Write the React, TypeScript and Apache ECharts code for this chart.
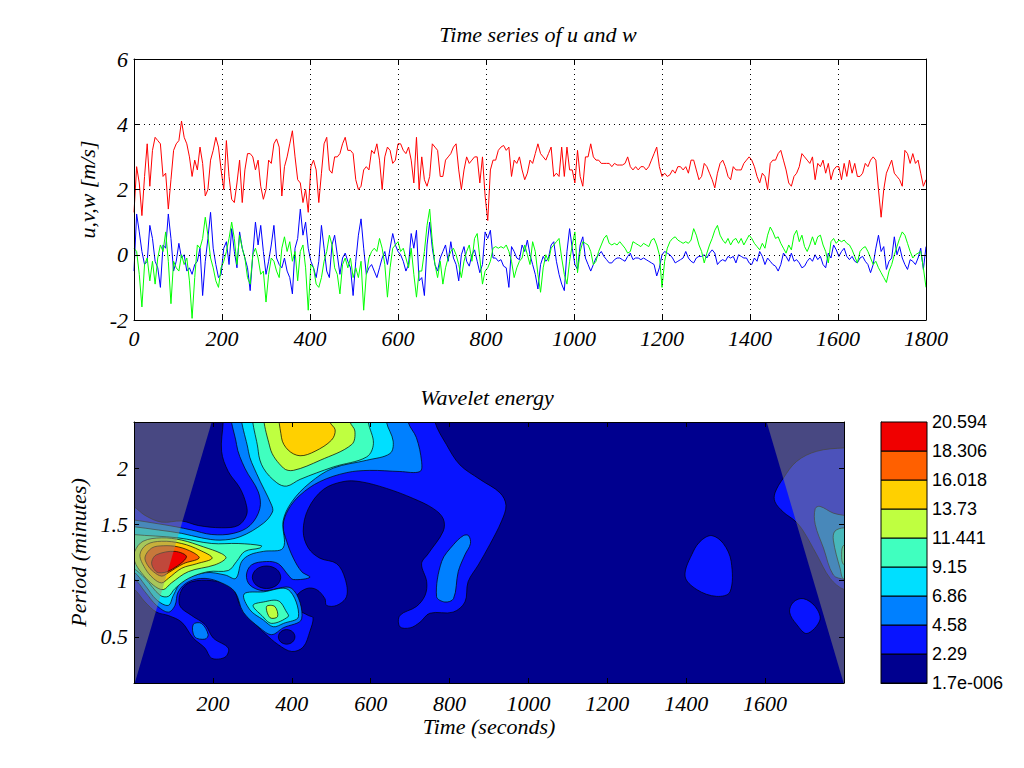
import React, { useEffect, useRef } from "react";
import * as echarts from "echarts";

const SAMPLE_STEP = 6;
const TOP_X_TICK_STEP = 200;

const uSeries = [
1.3,2.7,2.2,1.2,2.4,3.4,2.1,3.2,3.6,3.5,3.4,2.4,2.5,1.4,2.3,3.2,3.4,3.5,
4.1,3.6,3.4,3.0,2.4,2.9,2.6,3.3,2.8,1.8,2.0,2.9,3.2,3.6,3.3,2.6,2.0,3.5,2.4,
1.7,1.6,2.2,2.9,1.6,2.6,3.1,3.1,3.0,2.6,2.9,2.1,1.7,2.0,2.9,2.8,3.4,3.55,3.3,1.8,
2.7,3.0,3.4,3.8,3.0,2.3,2.2,1.6,2.0,1.3,2.7,2.9,2.6,1.6,2.5,3.4,3.6,2.6,2.5,3.0,
3.0,3.1,3.4,3.6,3.2,3.2,3.1,2.3,2.0,2.1,2.6,2.7,2.6,3.2,3.1,3.4,2.9,2.0,3.0,3.3,
3.2,2.8,2.9,3.4,3.4,3.2,3.1,3.3,2.9,2.2,3.6,2.0,
3.0,2.3,2.1,2.4,3.4,3.3,3.2,2.4,2.4,2.9,3.0,3.1,3.3,3.4,2.6,2.0,2.6,3.0,2.8,2.9,
3.0,3.0,2.2,3.0,1.8,1.05,2.6,2.9,2.9,3.2,3.3,3.35,3.2,3.3,2.4,2.9,2.8,3.0,2.6,2.3,
2.5,2.9,2.8,3.1,3.4,3.1,3.0,2.9,3.1,3.3,2.4,2.5,2.4,3.3,2.4,3.3,2.6,2.6,2.2,3.2,
2.4,2.1,3.0,3.0,3.4,3.0,2.9,2.9,2.8,2.8,2.8,2.8,2.7,2.8,2.75,2.75,2.75,2.8,3.0,2.7,
2.6,2.7,2.6,2.7,2.7,2.6,2.7,2.9,3.1,3.3,2.7,2.4,2.5,2.4,2.45,2.6,2.5,2.7,
2.7,2.6,2.7,2.5,2.9,2.9,2.6,2.3,2.4,2.8,2.7,2.5,2.3,2.05,2.5,2.8,2.9,2.7,2.4,2.3,
2.7,2.6,2.6,2.6,2.8,2.9,3.0,2.9,2.7,2.4,2.2,2.5,2.4,2.0,2.8,2.9,2.9,3.1,3.2,2.9,
2.6,2.2,2.1,2.4,2.5,2.7,3.1,3.0,2.9,2.8,3.0,2.3,2.8,2.7,2.9,2.5,2.8,2.3,2.6,2.7,
2.7,2.3,2.8,2.4,2.9,2.5,2.8,2.4,2.4,2.5,2.8,2.7,2.9,3.0,2.9,2.0,1.15,2.0,2.5,2.7,
2.9,2.5,2.4,2.3,2.1,3.2,3.1,2.8,3.1,2.8,2.9,2.5,2.1,2.3,
];

const wSeries = [
-0.5,1.25,0.7,0.1,-0.3,-0.2,0.9,0.5,-0.2,-0.4,-1.0,0.3,0.2,1.25,0.5,-0.5,-0.2,0.35,-0.1,0.0,
-0.5,-0.4,-0.6,-0.3,-0.2,0.2,-1.25,-0.2,0.5,1.3,0.2,-0.3,-0.7,-0.6,0.2,0.4,-0.3,0.8,0.1,-0.4,
0.7,0.2,-0.1,-0.4,-1.1,0.0,1.0,0.3,0.9,0.1,-0.6,-0.2,0.3,0.9,-0.1,-0.3,-0.4,-0.1,-0.5,-0.7,
-1.2,0.2,0.5,1.4,0.6,1.0,0.2,-0.2,-0.4,-0.7,-0.2,0.9,0.2,-0.5,-0.7,0.3,0.6,0.0,-0.6,-0.1,
0.05,-0.2,-0.4,-1.25,-0.2,0.6,1.1,0.2,-0.6,-0.4,-0.3,-0.5,-0.7,-0.4,-0.1,0.1,-0.3,0.2,0.65,0.3,
0.1,0.0,-0.2,-0.5,-0.3,0.65,0.2,0.75,-0.8,
-0.7,-1.25,0.3,1.0,0.2,-0.3,-0.5,-0.1,0.1,0.3,-0.2,0.4,-0.1,-0.3,-0.8,0.0,0.25,-0.2,-0.35,0.0,
0.15,-0.2,-0.55,-0.3,0.7,0.5,0.75,-0.1,-0.1,-0.2,-0.15,-0.35,-0.4,-1.0,0.25,0.1,-0.1,-0.15,0.3,0.1,
0.45,0.0,-0.3,-0.6,-1.05,-0.3,-0.05,-0.2,-0.1,0.3,0.4,-0.2,-0.6,-0.9,-1.1,0.1,0.8,0.2,-0.3,-0.45,
0.3,0.55,-0.1,-0.3,-0.5,-0.3,-0.1,0.0,0.1,-0.05,-0.15,-0.25,-0.25,-0.15,-0.1,-0.1,-0.15,-0.2,-0.05,0.05,
-0.15,-0.1,-0.1,-0.15,-0.1,-0.15,-0.2,-0.25,-0.3,-0.65,-0.4,0.0,0.1,0.05,0.0,-0.1,-0.25,-0.2,
-0.15,-0.1,0.1,-0.1,-0.2,-0.25,-0.1,-0.05,-0.05,0.0,-0.1,0.05,0.15,0.05,-0.3,-0.2,-0.15,-0.2,-0.05,-0.1,
-0.05,-0.25,0.0,-0.05,-0.1,-0.1,-0.25,-0.3,-0.1,-0.2,0.1,-0.05,-0.3,-0.1,-0.2,-0.3,-0.35,-0.5,-0.3,0.05,
-0.05,-0.2,0.05,-0.2,-0.15,-0.25,-0.4,-0.35,-0.2,-0.1,-0.2,0.0,-0.15,-0.05,-0.3,-0.4,0.05,-0.1,0.3,0.15,
-0.05,0.1,0.2,-0.05,-0.15,-0.05,-0.2,-0.25,-0.1,-0.05,-0.2,-0.3,-0.55,-0.3,0.2,0.6,0.1,0.25,-0.45,-0.2,
-0.1,0.55,0.0,0.25,-0.1,-0.3,-0.45,-0.15,-0.2,-0.3,-0.1,0.2,-0.45,0.25,
];

const vSeries = [
0.2,0.1,-0.6,-1.6,-0.3,-0.1,-0.8,-0.2,-0.9,-0.1,0.3,0.1,0.7,-0.2,-1.5,-0.2,-0.4,-0.5,0.0,-0.3,
-0.1,-0.8,-1.95,-0.7,0.3,0.2,0.5,1.15,0.6,-0.1,-0.4,-0.8,-1.0,-0.4,-0.2,0.1,0.5,1.0,0.5,-0.3,
0.6,0.2,-0.1,-0.7,-0.9,0.0,0.2,-0.1,-0.6,-0.5,-1.45,-0.6,-0.1,-0.2,-0.5,-0.7,0.2,0.55,0.1,0.4,
-0.2,0.1,-0.8,0.1,0.3,-0.4,-1.7,-0.3,-0.4,-0.9,-1.0,-0.7,-0.2,0.1,0.6,0.3,-0.4,-0.6,-1.2,-0.3,
-0.1,-0.4,-0.1,-0.7,-0.4,-0.7,-0.2,-1.7,-0.6,-0.1,0.1,0.2,0.1,0.5,0.2,-0.3,-1.3,-0.4,0.2,0.3,
0.4,0.1,0.2,-0.1,-0.4,0.2,-0.6,-1.3,-0.5,
-0.5,0.1,0.9,1.4,0.4,-0.3,-0.7,-0.2,-0.9,-0.4,-0.1,0.1,0.2,0.0,-0.3,-0.7,-0.2,0.1,0.3,-0.2,
0.5,0.65,-0.1,-0.9,-0.5,-0.4,-0.2,0.2,0.25,0.2,0.25,0.2,0.3,0.1,-0.2,-0.7,-0.4,-0.2,-0.1,0.3,
0.0,-0.3,0.4,0.1,-0.6,-1.15,-0.4,0.0,-0.2,0.2,0.3,0.4,0.5,-0.1,-0.6,-0.9,-0.2,0.3,0.7,-0.55,
0.1,0.4,0.35,0.3,0.1,-0.3,-0.2,0.1,0.3,0.5,0.6,0.35,0.3,0.35,0.3,0.4,0.3,0.2,0.05,0.1,
0.4,0.35,0.3,0.25,0.35,0.3,0.25,0.45,0.5,0.3,0.0,-1.0,-0.2,0.2,0.4,0.5,0.55,0.45,
0.4,0.35,0.4,0.35,0.45,0.8,0.6,0.3,0.1,-0.25,0.05,0.3,0.5,0.75,0.9,0.6,0.45,0.35,0.5,0.3,
0.45,0.5,0.35,0.5,0.3,0.45,0.6,0.5,0.35,0.25,0.15,0.35,0.2,0.6,0.85,0.7,0.5,0.55,0.35,0.2,
0.05,0.3,0.15,0.6,0.75,0.4,0.6,0.25,0.1,0.3,0.55,0.3,0.55,0.6,0.3,0.1,-0.25,0.4,0.5,0.35,
0.45,0.4,0.45,0.35,0.3,0.15,-0.05,-0.25,0.1,0.2,0.25,0.1,-0.1,-0.3,-0.2,-0.4,-0.55,-0.7,-0.85,-0.5,
-0.3,0.0,0.25,0.5,0.7,0.6,0.35,0.1,-0.1,0.0,0.05,0.1,-0.4,-1.0,
];

const energyColors = ["#00008f","#0814ff","#0080ff","#00dfff","#40ffbf","#bfff40","#ffd000","#ff6000","#f00000"];
const colorbarLabels = ["1.7e-006","2.29","4.58","6.86","9.15","11.441","13.73","16.018","18.306","20.594"];

const blueMain = [[-74,2.56],[763,2.56],[763,2.41],[792,2.21],[826,2.03],[877,1.9],[928,1.78],[943,1.67],[932,1.53],[902,1.32],[873,1.14],[847,0.99],[839,0.81],[809,0.72],[750,0.71],[725,0.63],[700,0.58],[674,0.59],[674,0.69],[716,0.77],[738,0.87],[742,0.99],[729,1.15],[746,1.24],[784,1.44],[784,1.55],[759,1.64],[708,1.73],[640,1.82],[573,1.88],[530,1.88],[480,1.81],[442,1.64],[429,1.44],[442,1.29],[471,1.2],[514,1.15],[535,1.02],[539,0.86],[514,0.78],[488,0.78],[484,0.84],[463,0.92],[438,0.93],[412,0.86],[416,0.75],[442,0.69],[454,0.67],[446,0.55],[429,0.41],[400,0.37],[366,0.43],[332,0.53],[298,0.65],[269,0.78],[256,0.9],[239,0.96],[197,1.0],[146,0.99],[121,0.92],[116,0.78],[146,0.69],[180,0.61],[201,0.49],[239,0.4],[231,0.32],[197,0.31],[180,0.4],[150,0.49],[121,0.63],[87,0.69],[57,0.72],[28,0.81],[-2,0.93],[-74,1.05]];
const navyTopLeft = [[-74,2.56],[226,2.56],[226,2.41],[222,2.15],[239,1.97],[269,1.82],[285,1.67],[285,1.58],[264,1.49],[222,1.47],[163,1.49],[121,1.53],[70,1.52],[28,1.58],[-2,1.66],[-74,1.76]];
const azureMain = [[258,2.56],[260,2.21],[281,2.0],[315,1.79],[319,1.64],[294,1.49],[252,1.42],[197,1.41],[146,1.45],[104,1.48],[53,1.51],[-2,1.54],[-74,1.57],[-74,1.08],[-2,1.02],[28,0.9],[57,0.78],[87,0.72],[104,0.78],[112,0.9],[138,0.99],[180,1.02],[222,0.98],[256,0.9],[277,0.72],[319,0.58],[349,0.52],[378,0.58],[425,0.66],[400,0.93],[328,0.91],[294,0.96],[285,1.05],[298,1.14],[336,1.17],[366,1.15],[391,1.05],[404,1.01],[446,1.03],[425,1.08],[404,1.2],[387,1.35],[378,1.49],[391,1.63],[421,1.76],[471,1.88],[539,1.96],[598,1.98],[674,1.97],[725,1.97],[729,2.06],[716,2.27],[695,2.41],[695,2.56]];
const navyCircleA = [[336,1.13],[362,1.1],[372,1.03],[362,0.96],[336,0.93],[310,0.96],[300,1.03],[310,1.1]];
const navyCircleB = [[387,0.565],[402,0.545],[408,0.5],[402,0.455],[387,0.435],[372,0.455],[366,0.5],[372,0.545]];
const cyanMain = [[285,2.56],[290,2.15],[311,1.95],[349,1.67],[351,1.61],[328,1.51],[269,1.39],[218,1.36],[171,1.38],[121,1.42],[62,1.45],[-2,1.48],[-74,1.51],[-74,1.17],[-2,1.08],[28,0.96],[57,0.83],[87,0.78],[100,0.87],[121,0.99],[180,1.07],[231,1.05],[258,1.02],[273,1.17],[294,1.23],[328,1.26],[378,1.29],[378,1.53],[400,1.7],[446,1.87],[505,2.0],[590,2.07],[649,2.13],[657,2.24],[640,2.41],[640,2.56]];
const greenTop = [[313,2.56],[315,2.15],[328,2.0],[362,1.87],[387,1.84],[421,1.9],[505,2.01],[590,2.1],[607,2.22],[594,2.41],[594,2.56]];
const limeTop = [[340,2.56],[345,2.18],[379,2.0],[404,1.98],[472,2.07],[552,2.21],[560,2.33],[548,2.41],[548,2.56]];
const yellowTop = [[376,2.56],[374,2.27],[391,2.16],[421,2.11],[459,2.15],[501,2.25],[510,2.34],[497,2.41],[497,2.56]];
const greenMain = [[-74,1.44],[-2,1.41],[112,1.38],[197,1.33],[264,1.33],[323,1.31],[319,1.29],[281,1.26],[260,1.17],[239,1.09],[188,1.08],[138,1.02],[104,0.93],[87,0.86],[66,0.87],[28,1.02],[-2,1.11],[-74,1.23]];
const limeMain = [[2,1.26],[23,1.35],[70,1.38],[121,1.36],[176,1.3],[222,1.24],[233,1.2],[205,1.14],[138,1.08],[95,0.98],[74,0.92],[49,0.96],[19,1.07],[2,1.17]];
const yellowMain = [[15,1.23],[32,1.32],[70,1.35],[121,1.33],[167,1.27],[198,1.2],[159,1.15],[121,1.11],[87,1.02],[70,0.98],[49,1.02],[28,1.11]];
const orangeMain = [[28,1.21],[45,1.29],[74,1.31],[112,1.3],[150,1.25],[165,1.2],[125,1.15],[87,1.07],[70,1.04],[49,1.08],[34,1.14]];
const redMain = [[45,1.17],[57,1.23],[104,1.26],[133,1.21],[91,1.09],[62,1.07],[49,1.11]];
const cyanSmall = [[279,0.88],[328,0.9],[391,0.92],[417,0.68],[379,0.62],[353,0.59],[328,0.65],[294,0.74]];
const greenSmall = [[302,0.78],[328,0.81],[366,0.82],[387,0.72],[391,0.68],[349,0.62],[324,0.69]];
const limeSmall = [[336,0.77],[357,0.77],[364,0.68],[345,0.67]];
const azureBlobMid = [[848,1.4],[853,1.33],[839,1.23],[822,1.08],[810,0.84],[788,0.81],[767,0.86],[780,1.17],[810,1.32],[835,1.4]];
const azureBlobSmall = [[150,0.61],[171,0.62],[188,0.52],[180,0.48],[154,0.5]];
const blueBlobA = [[1465,1.4],[1494,1.33],[1514,1.17],[1511,0.9],[1477,0.86],[1427,0.92],[1397,1.04],[1418,1.26],[1439,1.36]];
const blueBlobB = [[1697,0.84],[1727,0.77],[1739,0.65],[1706,0.53],[1680,0.61],[1662,0.72],[1672,0.81]];
const blueRight = [[1646,1.91],[1680,2.06],[1731,2.15],[1801,2.18],[1858,2.18],[1858,0.9],[1801,0.92],[1765,1.02],[1731,1.23],[1697,1.44],[1676,1.53],[1646,1.61],[1625,1.7],[1625,1.78]];
const azureRight = [[1727,1.64],[1739,1.66],[1773,1.6],[1858,1.51],[1858,0.96],[1801,1.01],[1773,1.05],[1748,1.29],[1727,1.5]];
const cyanRight = [[1777,1.44],[1801,1.47],[1858,1.47],[1858,1.01],[1801,1.01],[1790,1.11],[1773,1.36]];
const greenRight = [[1801,1.32],[1858,1.35],[1858,1.14],[1801,1.14],[1794,1.23]];

const coiLeft = [[0,2.41],[197,2.41],[2,0.09],[0,0.09]];
const coiRight = [[1604,2.41],[1800,2.41],[1800,0.09],[1799,0.09]];

const contourLayers: [number, number[][]][] = [
  [1,blueMain],[0,navyTopLeft],
  [2,azureMain],[0,navyCircleA],[0,navyCircleB],
  [3,cyanMain],[4,greenTop],[5,limeTop],[6,yellowTop],
  [4,greenMain],[5,limeMain],[6,yellowMain],[7,orangeMain],[8,redMain],
  [3,cyanSmall],[4,greenSmall],[5,limeSmall],
  [2,azureBlobMid],[2,azureBlobSmall],[1,blueBlobA],[1,blueBlobB],
  [1,blueRight],[2,azureRight],[3,cyanRight],[4,greenRight],
];

const bottomXTicks = [200,400,600,800,1000,1200,1400,1600];
const bottomYTicks = [0.5,1,1.5,2];

const serif = "'Liberation Serif','Times New Roman',serif";
const titleStyle = { fontFamily: serif, fontStyle: "italic" as const, fontSize: 22, fontWeight: "normal" as const, color: "#000" };

const frameAxis = {
  axisLine: { show: true, onZero: false, lineStyle: { color: "#000", width: 1 } },
  axisTick: { show: true, inside: true, length: 5, lineStyle: { color: "#000", width: 1 } },
  axisLabel: { show: false },
  splitLine: { show: false },
  z: 10,
};
const labelStyle = { show: true, fontFamily: serif, fontStyle: "italic" as const, fontSize: 22, color: "#000", margin: 7, formatter: (v: number) => String(v) };
const dotted = { show: true, lineStyle: { color: "#000", type: [1, 4], width: 1 } };

function toPairs(values: number[]) {
  return values.map((v, i) => [i * SAMPLE_STEP, v]);
}

export default function App() {
  const ref = useRef<HTMLDivElement>(null);
  useEffect(() => {
    const chart = echarts.init(ref.current!, null, { renderer: "svg" });
    const polySeries = (items: any[], z: number, smooth: number, style: (it: any) => any) => ({
      type: "custom",
      xAxisIndex: 2,
      yAxisIndex: 2,
      coordinateSystem: "cartesian2d",
      clip: true,
      silent: true,
      z,
      data: items.map((_, i) => [i, 1]),
      renderItem: (params: any, api: any) => {
        const it = items[params.dataIndex];
        const pts = it.pts.map((p: number[]) => api.coord(p));
        return { type: "polygon", shape: { points: pts, smooth }, style: style(it) };
      },
    });
    chart.setOption({
      animation: false,
      backgroundColor: "#fff",
      title: [
        { text: "Time series of u and w", left: 533, top: 18, textAlign: "center", textStyle: titleStyle },
        { text: "Wavelet energy", left: 482, top: 381, textAlign: "center", textStyle: titleStyle },
      ],
      grid: [
        { left: 134, top: 59, width: 792, height: 261, show: false },
        { left: 134, top: 422, width: 710, height: 261, show: true, backgroundColor: energyColors[0], borderWidth: 0 },
        { left: 881, top: 422, width: 46, height: 261, show: false },
      ],
      xAxis: [
        { type: "value", gridIndex: 0, min: 0, max: 1800, interval: TOP_X_TICK_STEP, position: "bottom", ...frameAxis, axisLabel: labelStyle, splitLine: dotted },
        { type: "value", gridIndex: 0, min: 0, max: 1800, interval: TOP_X_TICK_STEP, position: "top", ...frameAxis },
        { type: "value", gridIndex: 1, min: 0, max: 1800, position: "bottom", ...frameAxis,
          axisTick: { ...frameAxis.axisTick, customValues: bottomXTicks },
          axisLabel: { ...labelStyle, margin: 9, customValues: bottomXTicks },
          name: "Time (seconds)", nameLocation: "middle", nameGap: 32, nameTextStyle: titleStyle },
        { type: "value", gridIndex: 1, min: 0, max: 1800, position: "top", ...frameAxis,
          axisTick: { ...frameAxis.axisTick, customValues: bottomXTicks } },
        { type: "value", gridIndex: 2, min: 0, max: 1, position: "bottom", axisLine: { show: true, lineStyle: { color: "#000" } }, axisTick: { show: false }, axisLabel: { show: false }, splitLine: { show: false } },
      ],
      yAxis: [
        { type: "value", gridIndex: 0, min: -2, max: 6, interval: 2, position: "left", ...frameAxis, axisLabel: { ...labelStyle, margin: 6 }, splitLine: dotted,
          name: "u,v,w [m/s]", nameLocation: "middle", nameGap: 32, nameRotate: 90, nameTextStyle: titleStyle },
        { type: "value", gridIndex: 0, min: -2, max: 6, interval: 2, position: "right", ...frameAxis },
        { type: "value", gridIndex: 1, min: 0.09, max: 2.41, position: "left", ...frameAxis,
          axisTick: { ...frameAxis.axisTick, customValues: bottomYTicks },
          axisLabel: { ...labelStyle, margin: 6, customValues: bottomYTicks },
          name: "Period (minutes)", nameLocation: "middle", nameGap: 44, nameRotate: 90, nameTextStyle: titleStyle },
        { type: "value", gridIndex: 1, min: 0.09, max: 2.41, position: "right", ...frameAxis,
          axisTick: { ...frameAxis.axisTick, customValues: bottomYTicks } },
        { type: "value", gridIndex: 2, min: 0, max: 9, interval: 1, position: "right",
          axisLine: { show: true, lineStyle: { color: "#000" } }, axisTick: { show: false }, splitLine: { show: false },
          axisLabel: { show: true, margin: 5, fontFamily: "'Liberation Sans',Arial,sans-serif", fontSize: 18, color: "#000",
            formatter: (v: number) => colorbarLabels[v] } },
      ],
      series: [
        { type: "line", name: "u", xAxisIndex: 0, yAxisIndex: 0, data: toPairs(uSeries), showSymbol: false, silent: true, lineStyle: { color: "#ff0000", width: 1 } },
        { type: "line", name: "w", xAxisIndex: 0, yAxisIndex: 0, data: toPairs(wSeries), showSymbol: false, silent: true, lineStyle: { color: "#0000ff", width: 1 } },
        { type: "line", name: "v", xAxisIndex: 0, yAxisIndex: 0, data: toPairs(vSeries), showSymbol: false, silent: true, lineStyle: { color: "#00ff00", width: 1 } },
        polySeries(contourLayers.map(([level, pts]) => ({ level, pts })), 3, 0.35,
          (it) => ({ fill: energyColors[it.level], stroke: "#000", lineWidth: 0.7 })),
        polySeries([{ pts: coiLeft }, { pts: coiRight }], 4, 0,
          () => ({ fill: "rgba(144,144,118,0.5)", stroke: "none" })),
        {
          type: "custom", xAxisIndex: 4, yAxisIndex: 4, coordinateSystem: "cartesian2d", silent: true,
          data: energyColors.map((_, i) => [0, i]),
          renderItem: (params: any, api: any) => {
            const i = params.dataIndex;
            const a = api.coord([0, i + 1]);
            const b = api.coord([1, i]);
            return { type: "rect", shape: { x: a[0], y: a[1], width: b[0] - a[0], height: b[1] - a[1] },
              style: { fill: energyColors[i], stroke: "#000", lineWidth: 1 } };
          },
        },
      ],
    });
    return () => chart.dispose();
  }, []);
  return <div ref={ref} style={{ position: "absolute", left: 0, top: 0, width: 1024, height: 768 }} />;
}
